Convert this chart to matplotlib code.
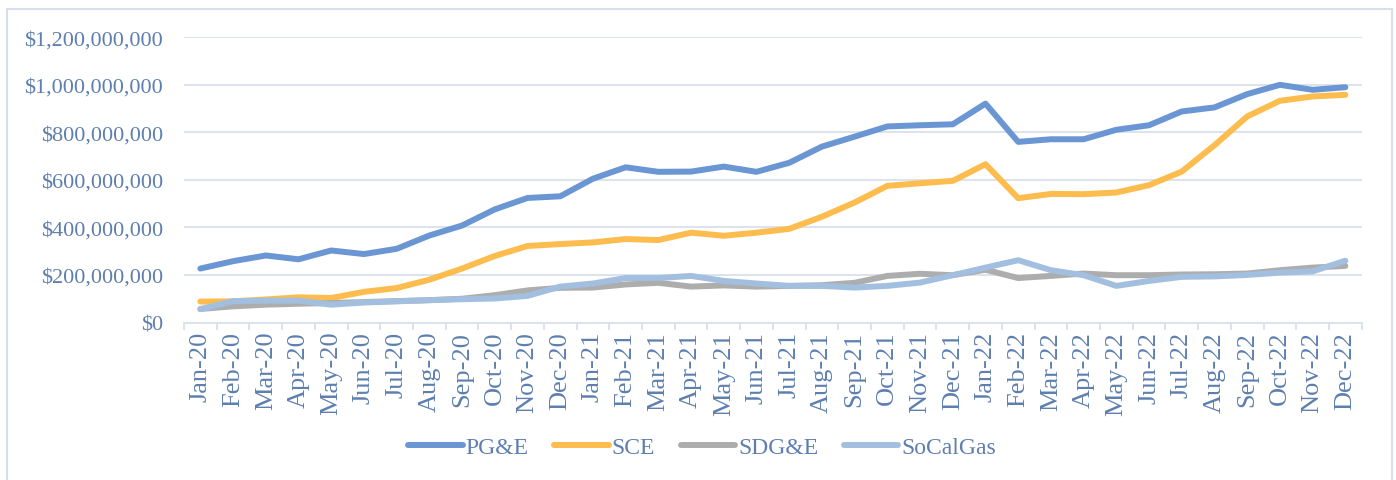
import numpy as np
import matplotlib
matplotlib.use("Agg")
import matplotlib.pyplot as plt
from matplotlib.ticker import FuncFormatter, FixedLocator
from matplotlib.patches import Rectangle

# monthly values, millions of dollars
months = [f"{m}-{y}" for y in ("20", "21", "22")
          for m in ("Jan", "Feb", "Mar", "Apr", "May", "Jun",
                    "Jul", "Aug", "Sep", "Oct", "Nov", "Dec")]

pge = [227, 258, 282, 266, 303, 288, 310, 366, 408, 476, 524, 531,
       605, 653, 634, 635, 656, 634, 672, 740, 782, 825, 830, 834,
       921, 760, 771, 771, 811, 830, 888, 905, 961, 1000, 979, 990]
sce = [88, 89, 97, 106, 103, 129, 145, 180, 227, 280, 322, 330,
       337, 351, 347, 378, 365, 378, 394, 445, 505, 575, 586, 596,
       666, 523, 541, 540, 547, 578, 635, 746, 867, 933, 951, 958]
sdge = [57, 68, 75, 79, 82, 86, 90, 94, 100, 115, 135, 146,
        147, 160, 167, 151, 156, 151, 154, 157, 167, 196, 205, 199,
        222, 187, 196, 206, 199, 199, 202, 203, 206, 220, 231, 238]
socalgas = [56, 90, 92, 92, 75, 84, 89, 94, 98, 101, 112, 151,
            164, 187, 187, 196, 175, 164, 154, 154, 147, 154, 168, 199,
            231, 262, 220, 199, 154, 175, 192, 194, 200, 210, 215, 260]

series = [("PG&E", pge, "#6A96D3"),
          ("SCE", sce, "#FDBC4E"),
          ("SDG&E", sdge, "#ADADAD"),
          ("SoCalGas", socalgas, "#A3BFE0")]

txt = "#5D7FAF"
grid = "#D9E1EB"
plt.rcParams["font.family"] = ["Liberation Serif", "DejaVu Serif"]

fig = plt.figure(figsize=(13.96, 4.81), dpi=100)
ax = fig.add_axes([184 / 1396, 1 - 323.5 / 481,
                   (1361.7 - 184) / 1396, (323.5 - 38.3) / 481])

x = np.arange(len(months))
for name, vals, col in series:
    ax.plot(x, np.array(vals) * 1e6, color=col, lw=4.3, label=name,
            solid_capstyle="round", solid_joinstyle="round")

ax.set_xlim(-0.5, len(months) - 0.5)
ax.set_ylim(0, 1.2e9)
ax.set_yticks(np.arange(0, 1.2e9 + 1, 2e8))
ax.yaxis.set_major_formatter(FuncFormatter(lambda v, p: f"${v:,.0f}"))
ax.grid(axis="y", color=grid, lw=1.3)
ax.set_axisbelow(True)

ax.set_xticks(x)
ax.set_xticklabels(months, rotation=90)
ax.xaxis.set_minor_locator(FixedLocator(np.arange(-0.5, len(months), 1)))
ax.tick_params(axis="x", which="major", length=0, pad=6,
               labelsize=19, labelcolor=txt)
ax.tick_params(axis="x", which="minor", length=5, width=1.3, color=grid)
ax.tick_params(axis="y", length=0, pad=15, labelsize=16, labelcolor=txt)

for s in ("top", "right", "left"):
    ax.spines[s].set_visible(False)
ax.spines["bottom"].set_color(grid)
ax.spines["bottom"].set_linewidth(1.3)

leg = fig.legend(loc="center", bbox_to_anchor=(0.503, 0.068), ncol=4,
                 frameon=False, fontsize=17, labelcolor=txt,
                 handlelength=2.3, handletextpad=0.12, columnspacing=1.1)
for h in leg.get_lines():
    h.set_linewidth(4.3)
    h.set_solid_capstyle("round")

fig.patches.append(Rectangle((7 / 1396, -0.05), 1385 / 1396, 1.05 - 10 / 481,
                             transform=fig.transFigure, fill=False,
                             edgecolor="#D6DFEB", lw=1.5))

fig.savefig("out.png", dpi=100)
